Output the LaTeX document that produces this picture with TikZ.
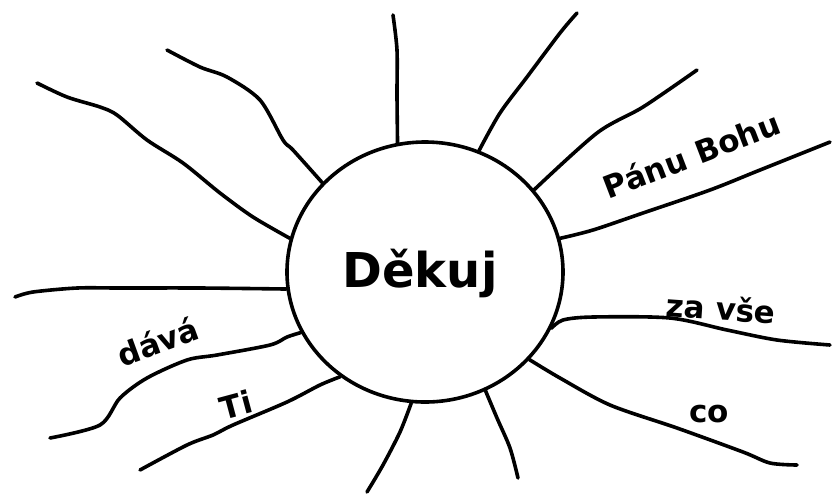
\documentclass[tikz,border=0pt]{standalone}
\usepackage{fontspec}
\newfontfamily\lblfont{DejaVu Sans}
\usetikzlibrary{shapes.geometric}
\begin{document}
\begin{tikzpicture}[x=0.5pt,y=-0.5pt,
  ray/.style={line width=1.8pt,line cap=round,line join=round},
  sun/.style={draw,ellipse,line width=1.8pt,minimum width=138pt,minimum height=130pt,inner sep=0pt},
  lbl/.style={font=\lblfont\bfseries\fontsize{15.5}{15.5}\selectfont,anchor=base,inner sep=0pt},
  big/.style={font=\lblfont\bfseries\fontsize{24}{24}\selectfont,anchor=base,inner sep=0pt}]
\useasboundingbox (0,0) rectangle (832,495);
\fill[white] (0,0) rectangle (832,495);
\node[sun] (c) at (425,272) {};
\node[big] (t) at (420,287) {Děkuj};
% rays
\draw[ray] plot[smooth,tension=0.5] coordinates {(c.166) (253,217) (220,193) (183,163) (147,140) (117,115) (100,107) (67,97) (37,83)};
\draw[ray] plot[smooth,tension=0.5] coordinates {(c.139) (293,150) (283,140) (260,100) (227,77) (200,67) (167,50)};
\draw[ray] plot[smooth,tension=0.5] coordinates {(c.102) (397,95) (397,50) (393,15)};
\draw[ray] plot[smooth,tension=0.5] coordinates {(c.66) (500,113) (527,77) (560,33) (577,13)};
\draw[ray] plot[smooth,tension=0.5] coordinates {(c.37) (597,133) (643,107) (697,70)};
\draw[ray] plot[smooth,tension=0.5] coordinates {(c.14) (593,230) (643,213) (710,190) (760,170) (830,142)};
\draw[ray] plot[smooth,tension=0.5] coordinates {(c.-24) (563,320) (593,317) (670,318) (727,330) (777,340) (830,345)};
\draw[ray] plot[smooth,tension=0.5] coordinates {(c.-40) (560,378) (610,405) (677,428) (743,452) (770,463) (797,465)};
\draw[ray] plot[smooth,tension=0.5] coordinates {(c.-63) (497,418) (510,448) (518,478)};
\draw[ray] plot[smooth,tension=0.5] coordinates {(c.-96) (400,432) (383,465) (367,492)};
\draw[ray] plot[smooth,tension=0.5] coordinates {(c.231) (320,385) (287,402) (233,425) (213,435) (187,445) (140,470)};
\draw[ray] plot[smooth,tension=0.5] coordinates {(c.206) (287,337) (270,345) (217,355) (187,360) (147,378) (120,398) (100,425) (50,438)};
\draw[ray] plot[smooth,tension=0.5] coordinates {(c.187) (200,288) (120,288) (77,288) (33,292) (15,297)};
% labels
\node[lbl,rotate=21] (pb) at (696,166) {Pánu Bohu};
\node[lbl,rotate=-4] (zv) at (720,320) {za vše};
\node[lbl] (co) at (709,422) {co};
\node[lbl,rotate=20] (dv) at (162,353) {dává};
\node[lbl,rotate=15] (ti) at (239,416) {Ti};
\end{tikzpicture}
\end{document}
